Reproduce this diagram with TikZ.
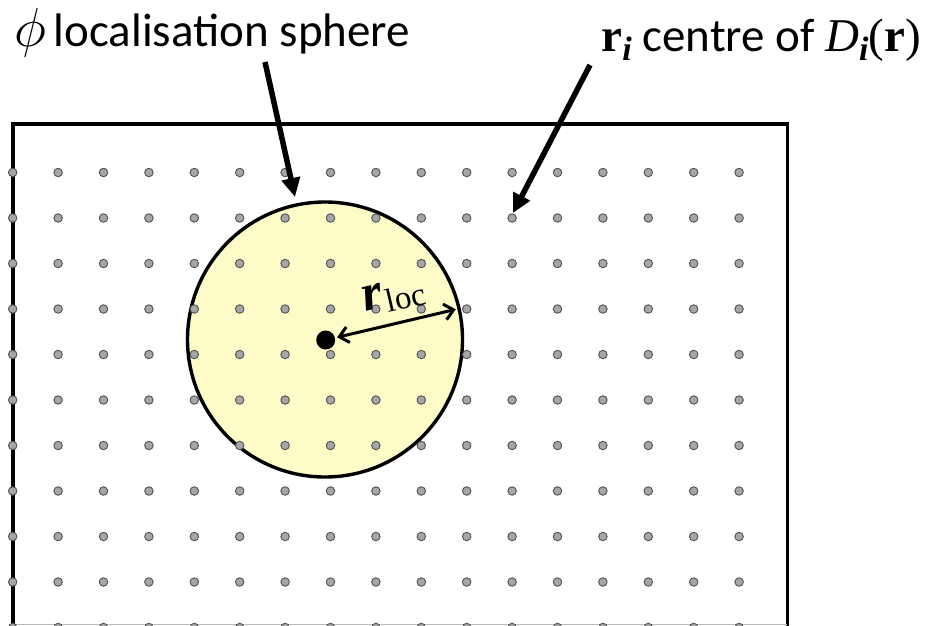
\documentclass[tikz,border=0pt]{standalone}
\usepackage{fix-cm}
\usepackage{fontspec}
\setmainfont{Carlito}
\newfontfamily\tms{Liberation Serif}
\usetikzlibrary{arrows.meta}
\definecolor{spherefill}{RGB}{253,252,200}
\definecolor{dotfill}{RGB}{166,166,166}
\definecolor{dotline}{RGB}{80,80,80}
\tikzset{
  latdot/.style={circle, fill=dotfill, draw=dotline, line width=0.9pt, minimum size=8.5pt, inner sep=0pt},
  bigarrow/.style={line width=5.5pt, -{Triangle[length=19pt,width=18pt]}},
  radarrow/.style={line width=3pt, {Straight Barb[length=9pt,width=16pt]}-{Straight Barb[length=9pt,width=16pt]}},
  lbl/.style={inner sep=0pt, font=\fontsize{47}{56}\selectfont},
  boxline/.style={line width=3.6pt},
}
\begin{document}
\begin{tikzpicture}[x=1pt,y=-1pt]
\useasboundingbox (0,0) rectangle (928,625);
\clip (0,0) rectangle (928,625);
% box
\draw[boxline] (12.7,700) -- (12.7,123.7) -- (787.3,123.7) -- (787.3,700);
\draw[gray!55, line width=1pt] (12.7,624.5) -- (787.3,624.5);
% localisation sphere
\node[circle, draw, fill=spherefill, line width=3.4pt, minimum size=275pt, inner sep=0pt] (sphere) at (325,339.5) {};
% lattice
\foreach \i in {0,...,16}
  \foreach \j in {0,...,10}
    \node[latdot] (d-\i-\j) at ({12.7+45.4*\i},{172.5+45.5*\j}) {};
% centre
\node[circle, fill=black, minimum size=19pt, inner sep=0pt] (c) at (325.7,340) {};
\draw[radarrow, shorten <=2pt, shorten >=5pt] (c) -- (sphere.13);
\node[inner sep=0pt, rotate=13, anchor=base west] (rloc) at (365,312)
  {{\tms\fontsize{52}{56}\selectfont\bfseries\itshape r}\kern2pt\raisebox{-6pt}{\tms\fontsize{33}{36}\selectfont loc}};
% labels
\node[lbl, anchor=base west] (lab1) at (14,46.5) {{\fontsize{55}{55}\selectfont$\phi$}\,localisation sphere};
\node[lbl, anchor=base east] (lab2) at (921,51)
  {{\tms\bfseries r}\raisebox{-9pt}{\tms\fontsize{34}{40}\selectfont\bfseries\itshape i}\ centre of {\tms\itshape D}\raisebox{-9pt}{\tms\fontsize{34}{40}\selectfont\bfseries\itshape i}{\tms(\textbf{r})}};
% pointer arrows
\coordinate (a1s) at (265,62);
\coordinate (a1e) at (295,197);
\coordinate (a2s) at (590,65);
\coordinate (a2e) at (513,213);
\draw[bigarrow] (a1s) -- (a1e);
\draw[bigarrow] (a2s) -- (a2e);
\end{tikzpicture}
\end{document}
